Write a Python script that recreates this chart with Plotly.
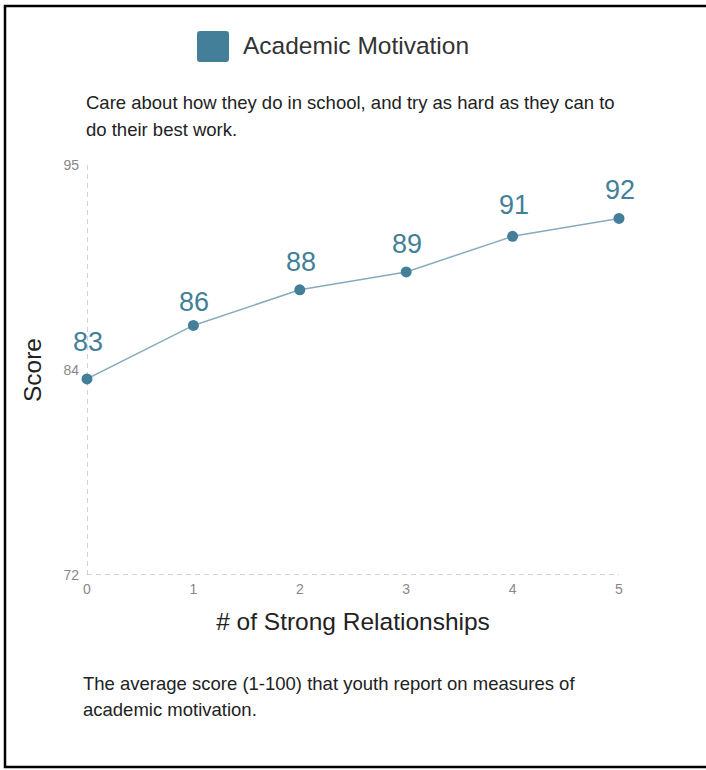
import plotly.graph_objects as go

relationships = [0, 1, 2, 3, 4, 5]
scores = [83, 86, 88, 89, 91, 92]
score_labels = ["83", "86", "88", "89", "91", "92"]
label_lift = [37, 23, 28, 28, 31, 28]  # pixel offsets of value labels above points
y_tickvals = [72, 83.5, 95]
y_ticktext = ["72", "84", "95"]
x_tickvals = [0, 1, 2, 3, 4, 5]
series_name = "Academic Motivation"
subtitle_lines = ["Care about how they do in school, and try as hard as they can to",
                  "do their best work."]
footer_lines = ["The average score (1-100) that youth report on measures of",
                "academic motivation."]

W, H = 706, 770
L, R, T, B = 87, 87, 165, 195
PW, PH = W - L - R, H - T - B

def px(x):
    return (x - L) / PW

def py(y):
    return (H - B - y) / PH

FONT = "Liberation Sans, Arial, sans-serif"
TEAL = "#437f98"
LINE = "#86abbd"

fig = go.Figure()
fig.add_trace(go.Scatter(
    x=relationships, y=scores, mode="lines+markers",
    line=dict(color=LINE, width=1.5),
    marker=dict(color=TEAL, size=11),
    cliponaxis=False, hoverinfo="skip", showlegend=False, name=series_name,
))

# rounded legend swatch path (paper units)
sx0, sx1, sy0, sy1, rr = 197, 229, 31, 62, 3
def P(x, y):
    return f"{px(x):.5f},{py(y):.5f}"
swatch_path = (f"M {P(sx0 + rr, sy0)} L {P(sx1 - rr, sy0)} Q {P(sx1, sy0)} {P(sx1, sy0 + rr)} "
               f"L {P(sx1, sy1 - rr)} Q {P(sx1, sy1)} {P(sx1 - rr, sy1)} "
               f"L {P(sx0 + rr, sy1)} Q {P(sx0, sy1)} {P(sx0, sy1 - rr)} "
               f"L {P(sx0, sy0 + rr)} Q {P(sx0, sy0)} {P(sx0 + rr, sy0)} Z")

shapes = [
    dict(type="line", xref="x", yref="y", x0=0, x1=0, y0=72, y1=95,
         line=dict(color="#c4c4c4", width=1.5, dash="5px,4px"), layer="below"),
    dict(type="line", xref="x", yref="y", x0=0, x1=5, y0=72, y1=72,
         line=dict(color="#c4c4c4", width=1.5, dash="5px,4px"), layer="below"),
    dict(type="path", xref="paper", yref="paper", path=swatch_path,
         fillcolor=TEAL, line=dict(width=0)),
    dict(type="rect", xref="paper", yref="paper",
         x0=px(5), x1=px(715), y0=py(767), y1=py(6),
         line=dict(color="black", width=2.5), fillcolor="rgba(0,0,0,0)"),
]

annotations = [
    dict(text=series_name, xref="paper", yref="paper", x=px(241), y=py(46),
         xanchor="left", yanchor="middle", showarrow=False,
         font=dict(size=24.5, color="#333333", family=FONT)),
]
for xv, yv, lab, lift in zip(relationships, scores, score_labels, label_lift):
    annotations.append(dict(text=lab, x=xv, y=yv, xref="x", yref="y",
                            yanchor="middle", xanchor="center", yshift=lift, xshift=1,
                            showarrow=False, font=dict(size=27, color=TEAL, family=FONT)))
for i, line in enumerate(subtitle_lines):
    annotations.append(dict(text=line, xref="paper", yref="paper",
                            x=px(84), y=py(102 + 28 * i), xanchor="left", yanchor="middle",
                            showarrow=False, font=dict(size=18.5, color="#222222", family=FONT)))
for i, line in enumerate(footer_lines):
    annotations.append(dict(text=line, xref="paper", yref="paper",
                            x=px(81), y=py(683 + 26 * i), xanchor="left", yanchor="middle",
                            showarrow=False, font=dict(size=18.5, color="#222222", family=FONT)))

fig.update_layout(
    width=W, height=H,
    margin=dict(l=L, r=R, t=T, b=B, pad=0),
    paper_bgcolor="white", plot_bgcolor="white",
    font=dict(family=FONT),
    shapes=shapes, annotations=annotations,
    xaxis=dict(range=[0, 5], tickvals=x_tickvals, showgrid=False, zeroline=False,
               showline=False, ticks="", ticklabelstandoff=4,
               tickfont=dict(size=14, color="#888888"),
               title=dict(text="# of Strong Relationships", standoff=16,
                          font=dict(size=24.5, color="#222222"))),
    yaxis=dict(range=[72, 95], tickvals=y_tickvals, ticktext=y_ticktext,
               showgrid=False, zeroline=False, showline=False, ticks="",
               ticklabelstandoff=7,
               tickfont=dict(size=14, color="#888888"),
               title=dict(text="Score", standoff=14,
                          font=dict(size=24.5, color="#222222"))),
)

fig.write_html("out.html", config={"displayModeBar": False},
               post_script="document.body.style.margin='0px';")
